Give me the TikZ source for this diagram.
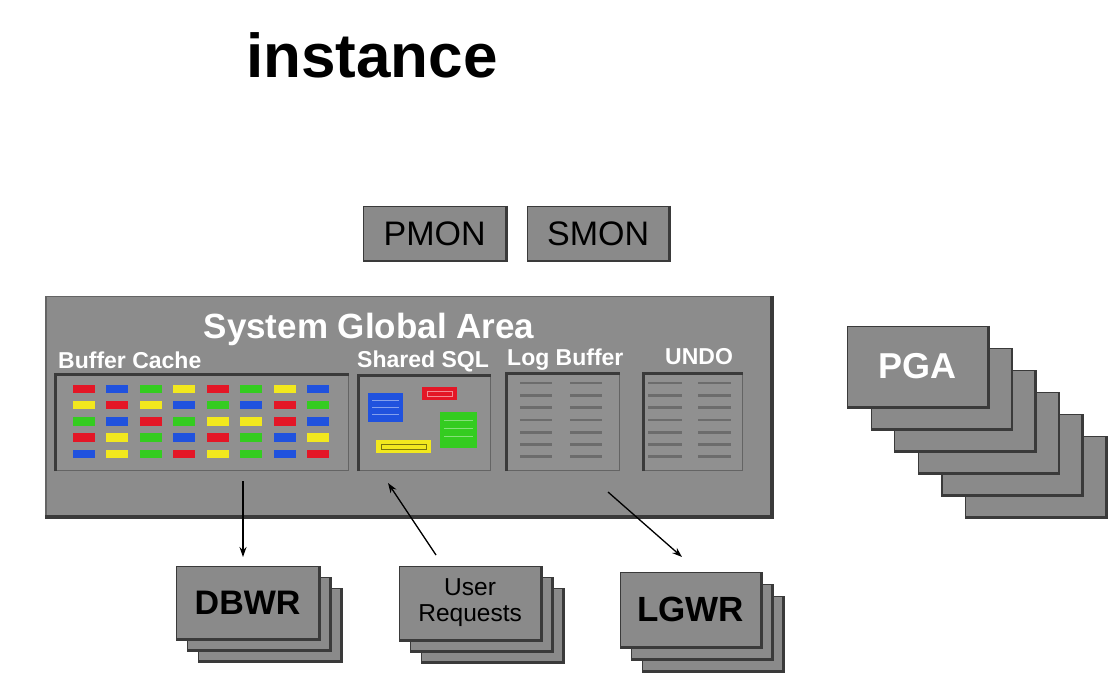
\documentclass[tikz,border=0pt]{standalone}
\usepackage{fontspec}
\setmainfont{Liberation Sans}
\usetikzlibrary{arrows.meta}
\definecolor{boxgray}{RGB}{138,138,138}
\definecolor{sgagray}{RGB}{140,140,140}
\definecolor{innergray}{RGB}{144,144,144}
\definecolor{edge}{RGB}{58,58,58}
\definecolor{softedge}{RGB}{100,100,100}
\definecolor{linegray}{RGB}{108,108,108}
\definecolor{cred}{RGB}{228,22,38}
\definecolor{cblue}{RGB}{32,82,222}
\definecolor{cgreen}{RGB}{52,204,32}
\definecolor{cyellow}{RGB}{242,232,30}
\tikzset{
  proc/.style={draw=edge, line width=1.2pt, fill=boxgray, inner sep=0pt, anchor=north west, align=center},
  inbox/.style={draw=softedge, line width=1.2pt, fill=innergray, inner sep=0pt, anchor=north west},
  sgalabel/.style={text=white, font=\bfseries\fontsize{23}{23}\selectfont, inner sep=0pt},
  arr/.style={-{Stealth[length=10pt,width=7pt]}, line width=1.3pt, black},
  logline/.style={linegray, line width=2.8pt},
}
\newcommand\pbox[7][]{%
  \node[proc, #1, minimum width=#5pt, minimum height=#6pt] (#2) at (#3,#4) {#7};
  \draw[edge, line width=2.6pt] (#2.north east) -- (#2.south east) -- (#2.south west);
}
\newcommand\ibox[5]{%
  \node[inbox, minimum width=#4pt, minimum height=#5pt] (#1) at (#2,#3) {};
  \draw[edge, line width=3pt] (#1.south west) -- (#1.north west) -- (#1.north east);
}
\begin{document}
\begin{tikzpicture}[x=1pt,y=-1pt]
\useasboundingbox[fill=white] (0,0) rectangle (1120,687);

% title
\node[anchor=base, font=\bfseries\fontsize{62}{62}\selectfont, inner sep=0pt] (title) at (372,78) {instance};

% PMON / SMON
\pbox[font=\fontsize{34}{34}\selectfont]{pmon}{363}{206}{142}{54}{PMON}
\pbox[font=\fontsize{34}{34}\selectfont]{smon}{527}{206}{141}{54}{SMON}

% SGA
\node[draw=softedge, line width=1.5pt, fill=sgagray, anchor=north west, minimum width=725pt, minimum height=219pt, inner sep=0pt] (sga) at (45,296) {};
\draw[edge, line width=4pt] (sga.north east) -- (sga.south east) -- (sga.south west);
\node[sgalabel, anchor=base, font=\bfseries\fontsize{35}{35}\selectfont] (sgat) at (369,338) {System Global Area};
\node[sgalabel, anchor=base west] (bct) at (58,368) {Buffer Cache};
\node[sgalabel, anchor=base west] (sst) at (357,367) {Shared SQL};
\node[sgalabel, anchor=base west] (lbt) at (507,365) {Log Buffer};
\node[sgalabel, anchor=base west] (undot) at (665,364) {UNDO};

% inner boxes
\ibox{bc}{55}{374}{293}{96}
\ibox{ss}{358}{375}{132}{95}
\ibox{lb}{506}{373}{113}{97}
\ibox{undo}{643}{373}{99}{97}

% buffer cache blocks
\foreach \row [count=\r] in {
  {cred,cblue,cgreen,cyellow,cred,cgreen,cyellow,cblue},
  {cyellow,cred,cyellow,cblue,cgreen,cblue,cred,cgreen},
  {cgreen,cblue,cred,cgreen,cyellow,cyellow,cred,cblue},
  {cred,cyellow,cgreen,cblue,cred,cgreen,cblue,cyellow},
  {cblue,cyellow,cgreen,cred,cyellow,cgreen,cblue,cred}}{
  \foreach \c [count=\k] in \row {
    \fill[\c] ({83.5+(\k-1)*33.5-11},{389+(\r-1)*16.2-4.2}) rectangle ++(22,8.4);
  }
}

% shared SQL items
\fill[cblue] (368,393) rectangle (403,422);
\foreach \yy in {400,407,414} \draw[cblue!55!white, line width=0.8pt] (372,\yy) -- (399,\yy);
\fill[cred] (422,387) rectangle (457,400);
\draw[cred!50!white, line width=0.8pt] (427,391) rectangle (452,396);
\fill[cgreen] (440,412) rectangle (477,448);
\foreach \yy in {420,428,436} \draw[cgreen!60!white, line width=0.8pt] (444,\yy) -- (473,\yy);
\fill[cyellow] (376,440) rectangle (431,453);
\draw[black!50!cyellow, line width=0.8pt] (381,444) rectangle (426,449);

% log buffer / undo lines
\foreach \k in {0,...,6}{
  \draw[logline] (520,{383+12.3*\k}) -- (552,{383+12.3*\k});
  \draw[logline] (570,{383+12.3*\k}) -- (602,{383+12.3*\k});
  \draw[logline] (648,{383+12.3*\k}) -- (682,{383+12.3*\k});
  \draw[logline] (698,{383+12.3*\k}) -- (731,{383+12.3*\k});
}

% bottom stacks
\pbox{dbwr3}{198}{588}{142}{72}{}
\pbox{dbwr2}{187}{577}{142}{72}{}
\pbox[font=\bfseries\fontsize{34}{34}\selectfont]{dbwr}{176}{566}{142}{72}{DBWR}

\pbox{user3}{421}{588}{141}{73}{}
\pbox{user2}{410}{577}{141}{73}{}
\pbox[font=\fontsize{24.5}{26}\selectfont]{user}{399}{566}{141}{73}{User\\Requests}

\pbox{lgwr3}{642}{596}{140}{74}{}
\pbox{lgwr2}{631}{584}{140}{74}{}
\pbox[font=\bfseries\fontsize{35}{35}\selectfont]{lgwr}{620}{572}{140}{74}{LGWR}

% PGA stack
\foreach \i in {5,4,...,1}{
  \pbox{pga\i}{847+23.6*\i}{326+22*\i}{140}{80}{}
}
\pbox[font=\bfseries\fontsize{36}{36}\selectfont, text=white]{pga}{847}{326}{140}{80}{PGA}

% arrows
\coordinate (bcout) at (243,481);
\coordinate (ureq) at (436,555);
\coordinate (ssin) at (388,483);
\coordinate (lbout) at (608,492);
\coordinate (lgin) at (682,557);
\draw[arr, shorten >=9pt] (bcout) -- (bcout |- dbwr.north);
\draw[arr] (ureq) -- (ssin);
\draw[arr] (lbout) -- (lgin);
\end{tikzpicture}
\end{document}
